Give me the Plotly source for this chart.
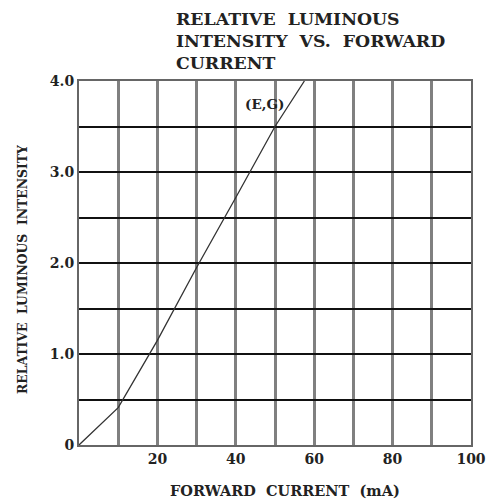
import plotly.graph_objects as go

current_ma = [0, 10, 20, 30, 40, 50, 57.5]
rel_intensity = [0, 0.41, 1.15, 1.95, 2.72, 3.5, 4.0]

x_ticks = [0, 10, 20, 30, 40, 50, 60, 70, 80, 90, 100]
x_labels = ["", "", "20", "", "40", "", "60", "", "80", "", "100"]
y_ticks = [0, 0.5, 1.0, 1.5, 2.0, 2.5, 3.0, 3.5, 4.0]
y_labels = ["0", "", "1.0", "", "2.0", "", "3.0", "", "4.0"]
title_lines = ["RELATIVE  LUMINOUS", "INTENSITY  VS.  FORWARD", "CURRENT"]

font_fam = "DejaVu Serif"
L, R, T, B = 79, 15, 81, 57
W, H = 486, 502
pw, ph = W - L - R, H - T - B

def px(xp):
    return (xp - L) / pw

def py(yp):
    return (H - B - yp) / ph

fig = go.Figure()
fig.add_trace(go.Scatter(x=current_ma, y=rel_intensity, mode="lines",
                         line=dict(color="#333333", width=1.3),
                         showlegend=False, hoverinfo="skip"))

fig.add_annotation(x=47.2, y=3.75, text="<b>(E,G)</b>", showarrow=False,
                   font=dict(family=font_fam, size=13.5, color="#222"))

for i, (t, yc) in enumerate(zip(title_lines, [19.5, 41, 63])):
    fig.add_annotation(xref="paper", yref="paper", x=px(174), y=py(yc),
                       xanchor="left", yanchor="middle", showarrow=False,
                       text="<b>" + t + "</b>",
                       font=dict(family=font_fam, size=17.3, color="#222"))

fig.add_annotation(xref="paper", yref="paper", x=px(285), y=py(490),
                   xanchor="center", yanchor="middle", showarrow=False,
                   text="<b>FORWARD  CURRENT  (mA)</b>",
                   font=dict(family=font_fam, size=14.5, color="#222"))
fig.add_annotation(xref="paper", yref="paper", x=px(22), y=py(270),
                   xanchor="center", yanchor="middle", showarrow=False, textangle=-90,
                   text="<b>RELATIVE  LUMINOUS  INTENSITY</b>",
                   font=dict(family=font_fam, size=12.4, color="#222"))

fig.update_layout(
    width=W, height=H,
    margin=dict(l=L, r=R, t=T, b=B, autoexpand=False),
    paper_bgcolor="white", plot_bgcolor="white",
    font=dict(family=font_fam, color="#222"),
    xaxis=dict(range=[0, 100], tickvals=x_ticks,
               ticktext=["<b>" + s + "</b>" if s else "" for s in x_labels],
               showgrid=True, gridcolor="#808080", gridwidth=3,
               showline=True, linecolor="#666", linewidth=2, mirror=True,
               zeroline=False, ticks="", automargin=False,
               tickfont=dict(family=font_fam, size=14, color="#222")),
    yaxis=dict(range=[0, 4], tickvals=y_ticks,
               ticktext=["<b>" + s + "</b>" if s else "" for s in y_labels],
               showgrid=True, gridcolor="#111", gridwidth=1.5,
               showline=True, linecolor="#666", linewidth=2, mirror=True,
               zeroline=False, ticks="", automargin=False,
               tickfont=dict(family=font_fam, size=14, color="#222")),
)

fig.write_html("out.html", config={"displayModeBar": False},
               post_script="document.body.style.margin='0';document.body.style.overflow='hidden';")
